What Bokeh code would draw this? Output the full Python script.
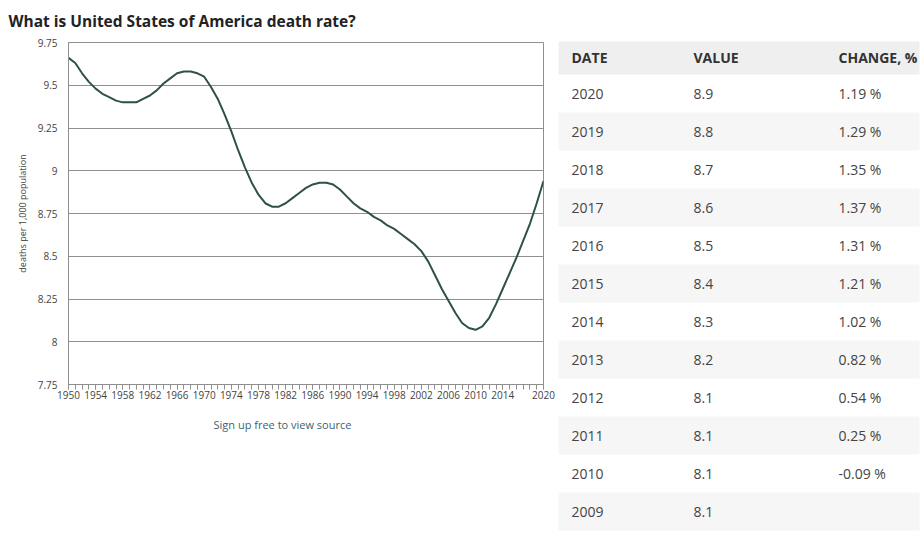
from bokeh.plotting import figure
from bokeh.layouts import row
from bokeh.models import Range1d, FixedTicker, NumeralTickFormatter, Title, ColumnDataSource
from bokeh.core.properties import value
from bokeh.embed import file_html
from bokeh.resources import INLINE

# ---------------- data ----------------
years = list(range(1950, 2021))
rate = [9.66, 9.63, 9.57, 9.52, 9.48, 9.45, 9.43, 9.41, 9.40, 9.40,
        9.40, 9.42, 9.44, 9.47, 9.51, 9.54, 9.57, 9.58, 9.58, 9.57,
        9.55, 9.49, 9.42, 9.33, 9.23, 9.12, 9.02, 8.93, 8.86, 8.81,
        8.79, 8.79, 8.81, 8.84, 8.87, 8.90, 8.92, 8.93, 8.93, 8.92,
        8.89, 8.85, 8.81, 8.78, 8.76, 8.73, 8.71, 8.68, 8.66, 8.63,
        8.60, 8.57, 8.53, 8.47, 8.39, 8.31, 8.24, 8.17, 8.11, 8.08,
        8.07, 8.09, 8.14, 8.22, 8.31, 8.40, 8.49, 8.59, 8.69, 8.81, 8.94]

x_tick_years = [1950, 1954, 1958, 1962, 1966, 1970, 1974, 1978, 1982, 1986,
                1990, 1994, 1998, 2002, 2006, 2010, 2014, 2020]
y_ticks = [7.75, 8.0, 8.25, 8.5, 8.75, 9.0, 9.25, 9.5, 9.75]

title_text = "What is United States of America death rate?"
y_label = "deaths per 1,000 population"
source_text = "Sign up free to view source"

table_header = ["DATE", "VALUE", "CHANGE, %"]
table_dates = ["2020", "2019", "2018", "2017", "2016", "2015",
               "2014", "2013", "2012", "2011", "2010", "2009"]
table_values = ["8.9", "8.8", "8.7", "8.6", "8.5", "8.4",
                "8.3", "8.2", "8.1", "8.1", "8.1", "8.1"]
table_changes = ["1.19 %", "1.29 %", "1.35 %", "1.37 %", "1.31 %", "1.21 %",
                 "1.02 %", "0.82 %", "0.54 %", "0.25 %", "-0.09 %", ""]

# ---------------- chart ----------------
FONT = "Open Sans"
p = figure(width=555, height=534, output_backend="svg", toolbar_location=None,
           x_range=Range1d(1950, 2020), y_range=Range1d(7.75, 9.75),
           min_border_left=68, min_border_right=12, min_border_top=42,
           min_border_bottom=150)
p.frame_align = False
p.background_fill_color = "white"
p.border_fill_color = "white"
p.outline_line_color = "#8f8f8f"
p.outline_line_width = 1

p.title.text = title_text
p.title.align = "left"
p.title.vertical_align = "top"
p.title.offset = -60
p.title.standoff = 18
p.title.text_font = FONT
p.title.text_font_style = "bold"
p.title.text_font_size = "15.5px"
p.title.text_color = "#222222"

p.add_layout(Title(text=source_text, align="left", offset=145, standoff=27,
                   text_font=FONT, text_font_style="normal",
                   text_font_size="11px", text_color="#3f5f72"), "below")

p.xgrid.visible = False
p.ygrid.grid_line_color = "#8f8f8f"
p.ygrid.grid_line_width = 1
p.ygrid.ticker = FixedTicker(ticks=y_ticks)

p.yaxis.ticker = FixedTicker(ticks=y_ticks)
p.yaxis.formatter = NumeralTickFormatter(format="0.[00]")
p.yaxis.major_tick_line_color = None
p.yaxis.minor_tick_line_color = None
p.yaxis.axis_line_color = "#8f8f8f"
p.yaxis.major_label_text_font = FONT
p.yaxis.major_label_text_font_size = "10px"
p.yaxis.major_label_text_color = "#444444"
p.yaxis.major_label_standoff = 5
p.yaxis.axis_label = y_label
p.yaxis.axis_label_text_font = FONT
p.yaxis.axis_label_text_font_style = "normal"
p.yaxis.axis_label_text_font_size = "9px"
p.yaxis.axis_label_text_color = "#444444"
p.yaxis.axis_label_standoff = 6

p.xaxis.ticker = FixedTicker(ticks=x_tick_years, minor_ticks=years)
p.xaxis.axis_line_color = "#8f8f8f"
p.xaxis.major_tick_line_color = "#8f8f8f"
p.xaxis.minor_tick_line_color = "#8f8f8f"
p.xaxis.major_tick_in = 0
p.xaxis.major_tick_out = 5
p.xaxis.minor_tick_in = 0
p.xaxis.minor_tick_out = 5
p.xaxis.major_label_text_font = FONT
p.xaxis.major_label_text_font_size = "10px"
p.xaxis.major_label_text_color = "#444444"
p.xaxis.major_label_standoff = 1

p.line(years, rate, line_color="#2e5242", line_width=2, line_join="round")

# ---------------- table ----------------
t = figure(width=366, height=534, output_backend="svg", toolbar_location=None,
           x_range=Range1d(0, 366), y_range=Range1d(534, 0),
           min_border=0, min_border_left=0, min_border_right=0,
           min_border_top=0, min_border_bottom=0)
t.frame_align = False
t.axis.visible = False
t.grid.visible = False
t.outline_line_color = None
t.background_fill_color = "white"
t.border_fill_color = "white"

header_top, header_bottom = 41, 74
row_h = 38
col_x = [16, 138, 283]
tbl_left, tbl_right = 3, 364

t.quad(left=tbl_left, right=tbl_right, top=header_top, bottom=header_bottom,
       fill_color="#efefef", line_color=None)

n = len(table_dates)
centers = [header_bottom + row_h / 2 + row_h * i for i in range(n)]
shaded = [i for i in range(n) if i % 2 == 1]
t.quad(left=[tbl_left] * len(shaded), right=[tbl_right] * len(shaded),
       top=[centers[i] - row_h / 2 for i in shaded],
       bottom=[centers[i] + row_h / 2 for i in shaded],
       fill_color="#f6f6f6", line_color=None)

t.text(x=col_x, y=[(header_top + header_bottom) / 2 - 1] * 3, text=table_header,
       text_font=value(FONT), text_font_style="bold", text_font_size="14px",
       text_color="#333333", text_baseline="middle", text_align="left")

src = ColumnDataSource(dict(d=table_dates, v=table_values, c=table_changes, y=centers))
for cx, col in zip(col_x, ["d", "v", "c"]):
    t.text(x=cx, y="y", text=col, source=src, text_font=value(FONT),
           text_font_size="14px", text_color="#444444",
           text_baseline="middle", text_align="left")

layout = row(p, t)
open("out.html", "w").write(file_html(layout, INLINE))
